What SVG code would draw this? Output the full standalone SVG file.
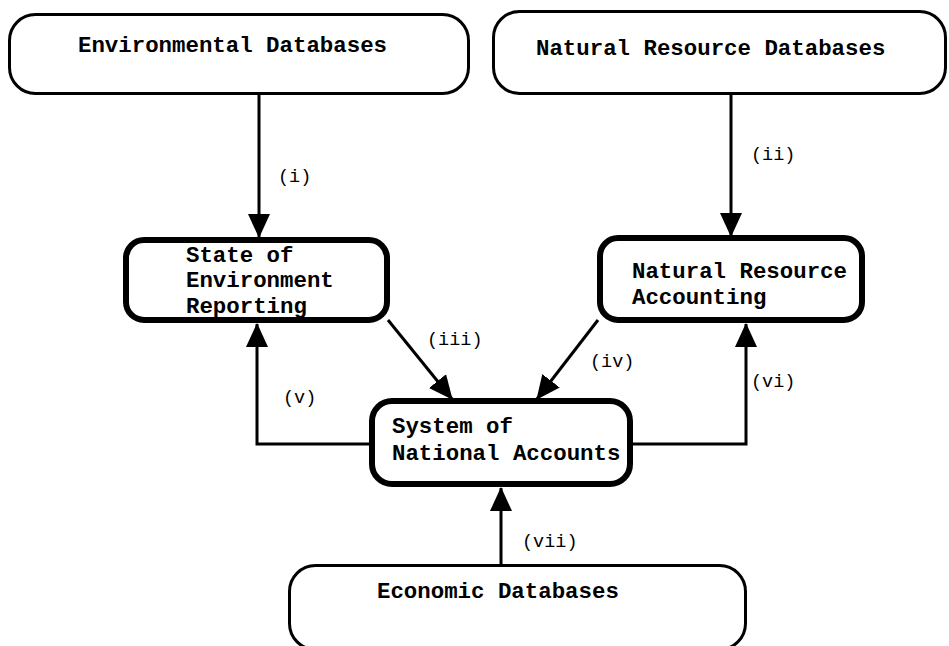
<svg xmlns="http://www.w3.org/2000/svg" width="949" height="646" viewBox="0 0 949 646">
<style>
.thin{fill:#fff;stroke:#000;stroke-width:3}
.thick{fill:#fff;stroke:#000;stroke-width:6}
.nt{font-family:"Liberation Mono","Courier New",monospace;font-weight:bold;font-size:22.4px;fill:#000}
.lb{font-family:"Liberation Mono","Courier New",monospace;font-size:18.5px;fill:#000}
.ln{fill:none;stroke:#000;stroke-width:3;marker-end:url(#ah)}
</style>
<defs>
<marker id="ah" markerUnits="userSpaceOnUse" markerWidth="24" markerHeight="24" viewBox="0 0 24 24" refX="23" refY="12" orient="auto">
<path d="M0,1 L24,12 L0,23 Z" fill="#000"/>
</marker>
</defs>
<rect width="949" height="646" fill="#fff"/>
<g id="connectors">
<line class="ln" x1="259" y1="95" x2="259" y2="237"/>
<line class="ln" x1="731" y1="95" x2="731" y2="236"/>
<line class="ln" x1="388" y1="320" x2="452" y2="399"/>
<line class="ln" x1="598" y1="320" x2="537" y2="399"/>
<polyline class="ln" points="370,444 257,444 257,324"/>
<polyline class="ln" points="632,444 746,444 746,324"/>
<line class="ln" x1="501" y1="564" x2="501" y2="488"/>
<text class="lb" x="278" y="182">(i)</text>
<text class="lb" x="751" y="160">(ii)</text>
<text class="lb" x="427" y="345">(iii)</text>
<text class="lb" x="590" y="367">(iv)</text>
<text class="lb" x="283" y="403">(v)</text>
<text class="lb" x="751" y="387">(vi)</text>
<text class="lb" x="522" y="547">(vii)</text>
</g>
<g id="env-db">
<rect class="thin" x="9.5" y="14.5" width="459" height="79" rx="26"/>
<text class="nt" x="78" y="52">Environmental Databases</text>
</g>
<g id="nr-db">
<rect class="thin" x="493.5" y="11.5" width="452" height="82" rx="26"/>
<text class="nt" x="536" y="55">Natural Resource Databases</text>
</g>
<g id="soe">
<rect class="thick" x="126" y="240" width="261" height="80" rx="18"/>
<text class="nt" x="186" y="262">State of</text>
<text class="nt" x="186" y="287">Environment</text>
<text class="nt" x="186" y="313">Reporting</text>
</g>
<g id="nra">
<rect class="thick" x="600" y="238" width="262" height="82" rx="18"/>
<text class="nt" x="632" y="278">Natural Resource</text>
<text class="nt" x="632" y="304">Accounting</text>
</g>
<g id="sna">
<rect class="thick" x="372" y="401" width="258" height="83" rx="20"/>
<text class="nt" x="392" y="433">System of</text>
<text class="nt" x="392" y="460">National Accounts</text>
</g>
<g id="econ-db">
<rect class="thin" x="289.5" y="565.5" width="456" height="84" rx="26"/>
<text class="nt" x="377" y="598">Economic Databases</text>
</g>
</svg>
